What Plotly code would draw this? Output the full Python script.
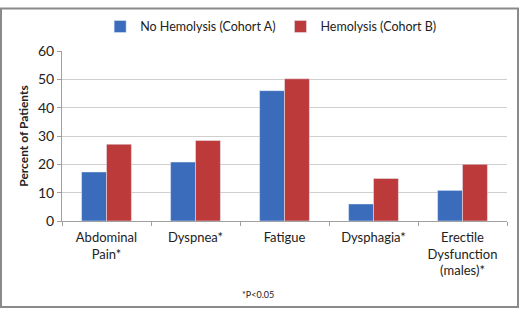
import plotly.graph_objects as go

categories = ["Abdominal<br>Pain*", "Dyspnea*", "Fatigue", "Dysphagia*", "Erectile<br>Dysfunction<br>(males)*"]
cohort_a = [17.3, 20.8, 46.0, 6.0, 10.8]
cohort_b = [27.1, 28.4, 50.2, 15.0, 20.0]
y_ticks = [0, 10, 20, 30, 40, 50, 60]

W, H = 520, 312
L, R, T, B = 62, 13, 45, 91
pw, ph = W - L - R, H - T - B

fig = go.Figure()
fig.add_trace(go.Bar(x=categories, y=cohort_a, name="No Hemolysis (Cohort A)", marker_color="#3b6cbc"))
fig.add_trace(go.Bar(x=categories, y=cohort_b, name="Hemolysis (Cohort B)", marker_color="#bd3a3a"))

font = "Lato, Open Sans, Liberation Sans, Arial"
fig.update_layout(
    width=W, height=H,
    margin=dict(l=L, r=R, t=T, b=B),
    paper_bgcolor="white", plot_bgcolor="white",
    barmode="group", bargap=0.44, bargroupgap=0,
    font=dict(family=font, size=13, color="#222"),
    showlegend=True,
    legend=dict(orientation="h", x=0.47, xanchor="center", y=1.0 + 25/ph, yanchor="middle",
                font=dict(size=12.5), itemwidth=30, tracegroupgap=0),
    xaxis=dict(showline=True, linecolor="#a0a0a0", linewidth=1, ticks="outside", tickson="boundaries",
               ticklen=4, tickcolor="#a0a0a0", tickfont=dict(size=13), showgrid=False,
               ticklabelstandoff=4),
    yaxis=dict(range=[0, 60], tickvals=y_ticks, showline=True, linecolor="#a0a0a0", linewidth=1,
               ticks="outside", ticklen=4, tickcolor="#a0a0a0", showgrid=True, gridcolor="#cfcfcf",
               tickfont=dict(size=14), zeroline=False,
               title=dict(text="<b>Percent of Patients</b>", font=dict(size=12), standoff=6)),
    shapes=[dict(type="rect", xref="paper", yref="paper",
                 x0=(1 - L) / pw, x1=(W - 2 - L) / pw,
                 y0=-(B - 2) / ph, y1=1 + (T - 1) / ph,
                 line=dict(color="#8a8a8a", width=2))],
    annotations=[dict(text="*P<0.05", xref="paper", yref="paper", x=(258 - L) / pw, y=-(297 - (H - B)) / ph,
                      showarrow=False, font=dict(size=9), xanchor="center", yanchor="middle")],
)
fig.write_html("out.html", config={"displayModeBar": False},
               post_script="document.body.style.margin='0px';")
